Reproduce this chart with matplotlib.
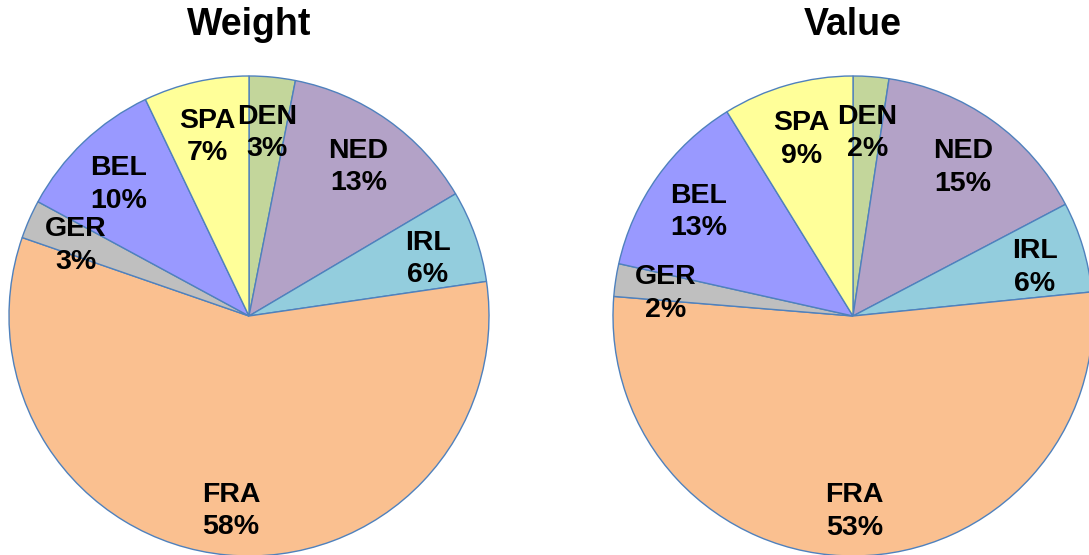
import matplotlib
matplotlib.use("Agg")
import matplotlib.pyplot as plt
import numpy as np

plt.rcParams['font.family'] = ['Liberation Sans', 'DejaVu Sans']

countries = ["DEN", "NED", "IRL", "FRA", "GER", "BEL", "SPA"]
colors = ["#C3D69B", "#B3A2C7", "#93CDDD", "#FAC090", "#BFBFBF", "#9999FF", "#FFFF99"]

# shares, printed labels as shown on the chart
weight_share = [3.1, 13.4, 6.2, 57.6, 2.6, 10.0, 7.1]
weight_pct = ["3%", "13%", "6%", "58%", "3%", "10%", "7%"]
value_share = [2.4, 14.9, 6.1, 52.9, 2.2, 12.7, 8.8]
value_pct = ["2%", "15%", "6%", "53%", "2%", "13%", "9%"]

W, H = 1089, 555
fig = plt.figure(figsize=(W / 100, H / 100), dpi=100)


def draw_pie(cx, cy, r, title, shares, pcts):
    ax = fig.add_axes([(cx - r) / W, (H - cy - r) / H, 2 * r / W, 2 * r / H])
    ax.pie(shares, colors=colors, startangle=90, counterclock=False,
           radius=1.0, wedgeprops=dict(edgecolor="#4F81BD", linewidth=1.0))
    cum = np.cumsum([0] + shares) / sum(shares)
    for i, name in enumerate(countries):
        mid = (cum[i] + cum[i + 1]) / 2
        ang = np.pi / 2 - 2 * np.pi * mid
        d = 0.79
        ax.text(d * np.cos(ang), d * np.sin(ang) - 0.025, name + "\n" + pcts[i],
                ha="center", va="center", fontsize=20.5, fontweight="bold",
                linespacing=1.32)
    ax.set_xlim(-1, 1)
    ax.set_ylim(-1, 1)
    ax.set_aspect("equal")
    ax.axis("off")
    fig.text(cx / W, 1 - 25 / H, title, ha="center", va="center",
             fontsize=27, fontweight="bold")


draw_pie(249, 316, 240, "Weight", weight_share, weight_pct)
draw_pie(853, 316, 240, "Value", value_share, value_pct)

fig.savefig("out.png", dpi=100)
